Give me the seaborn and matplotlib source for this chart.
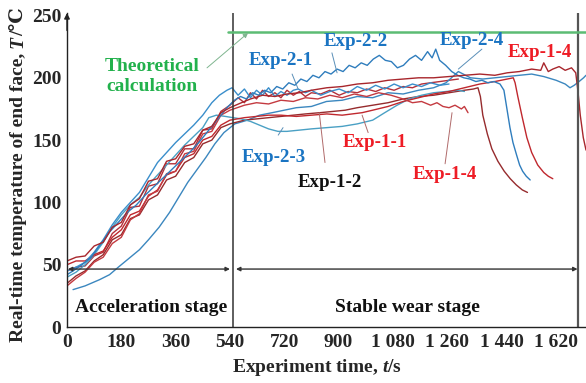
import matplotlib
matplotlib.use("Agg")
import matplotlib.pyplot as plt
import pandas as pd
import seaborn as sns

# ---------------- data ----------------
t_exp22 = [0,20,50,80,110,140,170,200,230,260,290,320,350,380,410,440,470,500,530,555,
           575,595,615,635,655,675,695,715,735,755,775,795,815,835,855,875,895,915,935,955,
           975,995,1015,1035,1055,1075,1095,1115,1135,1155,1175,1195,1210,1222,1235,1255,1275,1295,1315,1335,
           1355,1375,1395,1415,1435,1448,1458,1468,1478,1490,1500,1510,1522,1535]
T_exp22 = [42,45,50,56,66,76,84,92,98,106,113,120,127,134,141,149,158,167,176,182,
           185,183,188,186,190,188,193,191,196,194,199,197,202,200,205,203,207,205,210,208,
           212,210,215,218,214,213,208,210,215,218,214,221,216,223,214,210,205,202,200,199,
           197,198,196,197,195,190,175,160,148,138,130,125,121,118]

t_exp24 = [20,60,108,141,170,200,240,270,305,340,370,400,430,460,490,520,556,598,638,680,
           720,760,810,860,912,962,1013,1064,1114,1165,1215,1256,1297,1337,1378,1418,1459,1499,1540,1580,
           1621,1651,1667,1681,1697,1712,1720]
T_exp24 = [30,33,38,42,48,54,62,70,80,92,104,116,126,136,147,156,163,166,170,172,
           174,176,177,181,182,185,184,188,187,190,192,196,205,200,199,200,201,202,203,201,
           198,195,192,194,197,200,202]

t_exp23 = [0,30,60,90,120,150,180,210,240,270,300,330,360,390,420,450,470,495,525,550,
           578,608,638,668,699,729,770,810,861,912,962,1013,1053,1094,1134,1175,1215,1256,1297,1317]
T_exp23 = [40,44,50,58,68,80,90,98,104,114,122,130,138,146,153,160,168,170,169,168,
           167,165,162,159,157,157,158,159,160,161,163,166,172,178,183,186,188,189,190,189]

t_exp21 = [0,30,60,90,120,150,180,210,240,270,300,330,360,390,420,450,480,505,530,547,
           567,588,608,628,648,668,689,709,729,750,766,790,810,841,871,902,932,962,993,1023,
           1053,1084,1114,1145,1175,1205,1236,1266]
T_exp21 = [45,48,52,60,70,82,92,100,108,120,132,140,148,155,162,170,180,186,190,192,
           186,191,184,190,186,192,185,189,186,190,191,188,190,186,189,191,188,193,190,194,
           191,195,192,195,193,196,194,195]

t_exp12 = [0,30,60,90,120,150,180,210,240,270,300,330,360,390,420,450,480,510,540,
           588,628,668,709,750,790,838,881,922,962,1013,1064,1114,1165,1215,1266,1317,1347,1362,1370,
           1378,1393,1408,1428,1449,1469,1489,1509,1526]
T_exp12 = [35,41,45,53,58,70,74,87,90,102,106,118,121,132,136,147,150,160,163,
           166,167,168,169,170,171,172,173,174,176,178,180,183,185,186,188,190,191,192,185,
           170,155,143,133,125,119,114,110,108]

t_exp11 = [0,30,60,90,120,150,180,210,240,270,300,330,360,390,420,450,480,510,540,
           588,628,668,709,760,810,861,912,978,1013,1064,1114,1165,1215,1266,1317,1368,1418,1459,1479,
           1485,1494,1509,1524,1540,1560,1580,1595,1610]
T_exp11 = [50,53,53,58,61,72,78,90,93,105,110,122,125,136,139,150,153,162,166,
           168,169,170,170,169,170,171,170,172,174,177,181,184,187,189,192,195,197,199,200,
           196,185,168,152,140,130,124,121,119]

t_exp14a = [0,30,60,90,120,150,180,210,240,270,300,330,360,390,420,450,480,510,540,
            578,608,648,689,729,770,810,861,912,962,1013,1064,1114,1165,1215,1266,1317,1368,1418,1459,
            1499,1540,1570,1580,1595,1610,1631,1651,1672,1686,1693,1701,1711,1720]
T_exp14a = [53,56,57,65,68,80,84,98,103,117,119,133,135,145,147,158,161,172,176,
            180,183,186,185,187,188,190,192,193,195,196,198,199,200,200,201,202,203,202,204,
            205,207,206,212,205,207,209,206,208,204,190,170,152,142]

t_exp14b = [0,30,60,90,120,150,180,210,240,270,300,330,360,390,420,450,480,510,540,
            588,628,668,709,750,790,831,871,912,952,993,1033,1074,1114,1145,1175,1205,1226,1246,
            1266,1286,1307,1317,1329]
T_exp14b = [33,39,44,52,56,67,72,86,91,106,109,123,125,139,141,155,157,170,174,
            178,180,179,182,181,184,183,186,184,187,185,188,186,183,180,181,178,180,177,
            176,178,175,177,172]

t_exp13 = [0,30,60,90,120,150,180,210,240,270,300,330,360,390,420,450,480,510,540,
           567,588,608,628,648,668,689,709,729,750,770,790,810,841,871,902,932,962,993,1023,
           1053,1084,1114,1145,1175,1205,1236,1266,1297]
T_exp13 = [45,48,49,57,60,75,81,96,97,113,115,131,131,143,143,158,159,173,178,
           184,180,188,183,190,185,188,184,190,186,189,185,188,187,190,186,189,188,191,189,
           192,190,193,192,195,196,197,198,199]

theory_T = 236.5
stage_T = 46.5
x_ticks = [0, 180, 360, 540, 720, 900, 1080, 1260, 1440, 1620]
x_tick_labels = ["0", "180", "360", "540", "720", "900", "1 080", "1 260", "1 440", "1 620"]
y_ticks = [0, 50, 100, 150, 200, 250]

runs = {
    "Exp-1-3": (t_exp13, T_exp13),
    "Exp-2-4": (t_exp24, T_exp24),
    "Exp-1-2": (t_exp12, T_exp12),
    "Exp-2-3": (t_exp23, T_exp23),
    "Exp-1-1": (t_exp11, T_exp11),
    "Exp-2-1": (t_exp21, T_exp21),
    "Exp-1-4b": (t_exp14b, T_exp14b),
    "Exp-2-2": (t_exp22, T_exp22),
    "Exp-1-4a": (t_exp14a, T_exp14a),
}
palette = {
    "Exp-2-1": "#3a8ecb", "Exp-2-2": "#2f7dbd", "Exp-2-3": "#4aa0c4", "Exp-2-4": "#3b87bf",
    "Exp-1-1": "#c0282e", "Exp-1-2": "#962b2d", "Exp-1-3": "#b3303a",
    "Exp-1-4a": "#a8262c", "Exp-1-4b": "#c43a40",
}
df = pd.concat([pd.DataFrame({"t": t, "T": T, "run": k}) for k, (t, T) in runs.items()],
               ignore_index=True)

# ---------------- style ----------------
sns.set_style("white")
plt.rcParams["font.family"] = ["Liberation Serif", "DejaVu Serif"]
plt.rcParams["font.weight"] = "bold"
plt.rcParams["mathtext.fontset"] = "custom"
plt.rcParams["mathtext.it"] = "Liberation Serif:italic:bold"
plt.rcParams["mathtext.rm"] = "Liberation Serif:bold"

W, H = 586, 383
fig = plt.figure(figsize=(W / 100, H / 100), dpi=100)
ax = fig.add_axes([67 / W, 56 / H, 519 / W, 314 / H])

sns.lineplot(data=df, x="t", y="T", hue="run", palette=palette, estimator=None,
             sort=False, legend=False, linewidth=1.0, ax=ax)

ax.set_xlim(0, 1720)
ax.set_ylim(0, 252)
ax.set_xticks(x_ticks)
ax.set_xticklabels(x_tick_labels, fontsize=14, fontweight="bold")
ax.set_yticks(y_ticks)
ax.set_yticklabels([str(v) for v in y_ticks], fontsize=14, fontweight="bold")
ax.tick_params(axis="x", length=0, pad=5)
ax.tick_params(axis="y", length=0, pad=4)
ax.set_xlabel("")
ax.set_ylabel("")
for s in ["top", "right"]:
    ax.spines[s].set_visible(False)
for s in ["left", "bottom"]:
    ax.spines[s].set_color("#222222")
    ax.spines[s].set_linewidth(1.0)

# y-axis arrow head
ax.annotate("", xy=(0, 252), xytext=(0, 238),
            arrowprops=dict(arrowstyle="-|>", color="#222222", lw=1.0, mutation_scale=8,
                            shrinkA=0, shrinkB=0), annotation_clip=False)

# stage separators
ax.axvline(550, color="#333333", lw=1.1)
ax.axvline(1694, color="#555555", lw=1.6)

# theoretical line
ax.plot([534, 1720], [theory_T, theory_T], color="#5cbc74", lw=1.8)

# stage arrows
for a, b in [(3, 540), (560, 1692)]:
    ax.annotate("", xy=(a, stage_T), xytext=(b, stage_T),
                arrowprops=dict(arrowstyle="<|-|>", color="#333333", lw=1.0,
                                mutation_scale=6, shrinkA=0, shrinkB=0))

ax.text(278, 16, "Acceleration stage", fontsize=14, fontweight="bold", ha="center", va="center", color="#111111")
ax.text(1128, 16, "Stable wear stage", fontsize=14, fontweight="bold", ha="center", va="center", color="#111111")

# Theoretical calculation label + leader
green = "#22b14c"
ax.text(282, 209, "Theoretical", fontsize=14, fontweight="bold", color=green, ha="center", va="center")
ax.text(282, 193, "calculation", fontsize=14, fontweight="bold", color=green, ha="center", va="center")
ax.annotate("", xy=(600, 236), xytext=(464, 208),
            arrowprops=dict(arrowstyle="-|>", color="#7fb58f", lw=0.7, mutation_scale=7,
                            shrinkA=0, shrinkB=0))

blue = "#1a74c2"
red = "#ee1c25"
labels = [
    ("Exp-2-1", 709, 214, blue, (746, 203), (766, 191)),
    ("Exp-2-2", 958, 229, blue, (878, 220), (895, 204)),
    ("Exp-2-4", 1343, 230, blue, (1375, 223), (1297, 207)),
    ("Exp-1-4", 1568, 220, red, None, None),
    ("Exp-2-3", 686, 136, blue, (700, 154), (716, 160)),
    ("Exp-1-1", 1021, 148, red, (998, 156), (978, 170)),
    ("Exp-1-2", 872, 116, "#111111", (855, 132), (836, 172)),
    ("Exp-1-4", 1253, 122, red, (1253, 131), (1276, 172)),
]
for txt, x, y, c, p0, p1 in labels:
    ax.text(x, y, txt, fontsize=13.6, fontweight="bold", color=c, ha="center", va="center")
    if p0 is not None:
        lc = "#5a8fb8" if c == blue else "#b06a6a"
        ax.plot([p0[0], p1[0]], [p0[1], p1[1]], color=lc, lw=0.7)

# x axis title
fig.text(317 / W, 1 - 368 / H, "Experiment time, $t$/s", fontsize=14, fontweight="bold",
         ha="center", va="center")

# y axis title, assembled from pieces (rotated, reading bottom to top)
renderer = fig.canvas.get_renderer()
pieces = [
    ("Real-time temperature of end face,", dict(family=["Liberation Serif"], style="normal")),
    ("T", dict(family=["Liberation Serif"], style="italic")),
    ("/\u2103", dict(family=["Liberation Serif", "DejaVu Serif"], style="normal")),
]
gaps = [5, 0, 0]
widths = []
for s, kw in pieces:
    tmp = fig.text(0, 0, s, fontsize=14, fontweight="bold", **kw)
    widths.append(tmp.get_window_extent(renderer).width)
    tmp.remove()
total = sum(widths) + sum(gaps)
y_center = H - 175
y_pos = y_center - total / 2
x_base = 23
for (s, kw), w, g in zip(pieces, widths, gaps):
    fig.text(x_base / W, y_pos / H, s, fontsize=14, fontweight="bold", rotation=90,
             rotation_mode="anchor", ha="left", va="baseline", **kw)
    y_pos += w + g

fig.savefig("out.png", dpi=100)
